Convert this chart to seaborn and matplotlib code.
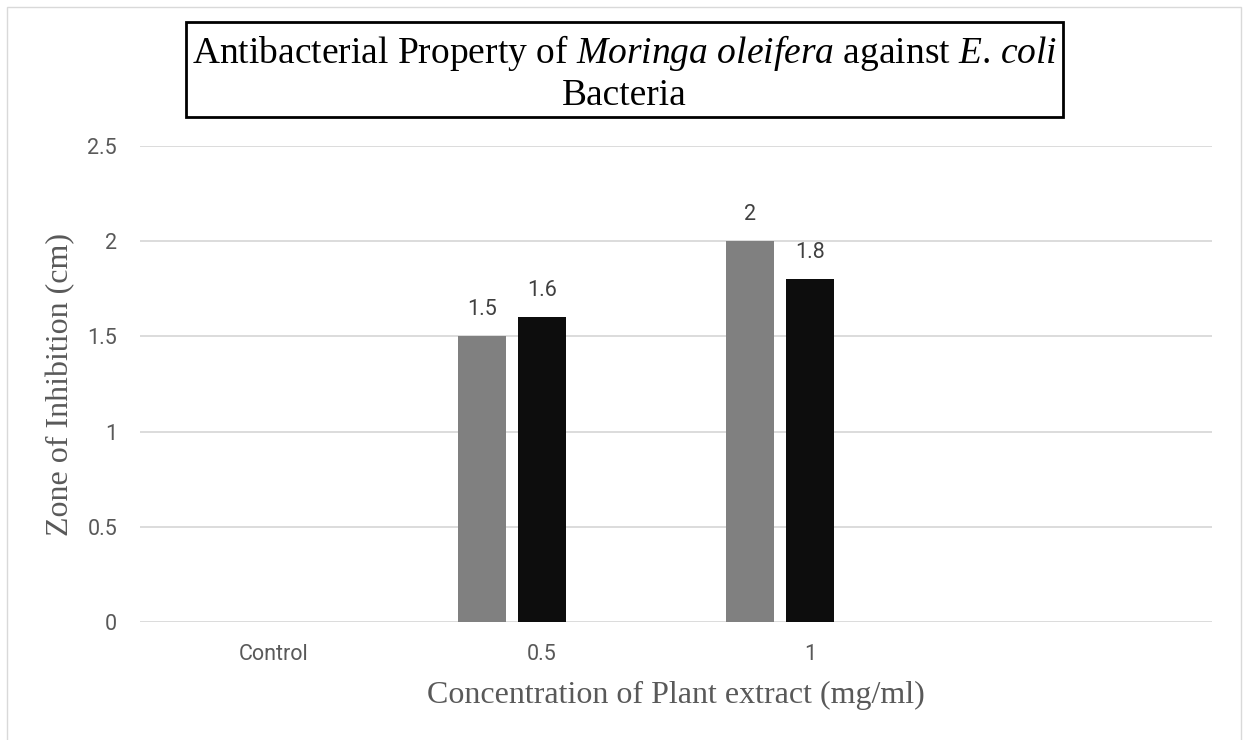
import numpy as np
import pandas as pd
import seaborn as sns
import matplotlib.pyplot as plt
from matplotlib.patches import Rectangle

# chart data (Control and the 4th slot have no values)
concentrations = ["Control", "0.5", "1", ""]
trial_1 = [np.nan, 1.5, 2.0, np.nan]
trial_2 = [np.nan, 1.6, 1.8, np.nan]
trial_3 = [np.nan, np.nan, np.nan, np.nan]
series_names = ["Trial 1", "Trial 2", "Trial 3"]
y_ticks = [0, 0.5, 1, 1.5, 2, 2.5]

title_text = (r"Antibacterial Property of $\mathit{Moringa}$ $\mathit{oleifera}$ against $\mathit{E}$. $\mathit{coli}$"
              "\nBacteria")
x_label = "Concentration of Plant extract (mg/ml)"
y_label = "Zone of Inhibition (cm)"

df = pd.DataFrame({
    "conc": concentrations * 3,
    "series": np.repeat(series_names, len(concentrations)),
    "value": trial_1 + trial_2 + trial_3,
})

sns.set_style("white")
plt.rcParams["font.family"] = ["Roboto", "DejaVu Sans"]
plt.rcParams["mathtext.fontset"] = "custom"
plt.rcParams["mathtext.rm"] = "Liberation Serif"
plt.rcParams["mathtext.it"] = "Liberation Serif:italic"

fig = plt.figure(figsize=(12.44, 7.40), dpi=100)
ax = fig.add_axes([140 / 1244, 1 - 622 / 740, 1072 / 1244, 476 / 740])

sns.barplot(
    data=df, x="conc", y="value", hue="series",
    order=concentrations, hue_order=series_names,
    palette=["#808080", "#0d0d0d", "#bfbfbf"],
    width=0.672, gap=0.21, errorbar=None, legend=False,
    linewidth=0, ax=ax,
)

for cont in ax.containers:
    ax.bar_label(cont, fmt="%g", padding=12, fontsize=15.5, color="#404040")

ax.set_ylim(0, 2.5)
ax.set_yticks(y_ticks)
ax.set_yticklabels([f"{t:g}" for t in y_ticks])
ax.grid(axis="y", color="#d9d9d9", linewidth=1.3)
ax.set_axisbelow(True)
sns.despine(ax=ax, left=True, bottom=True, top=True, right=True)
ax.tick_params(axis="both", length=0, labelsize=15.5, labelcolor="#595959")
ax.tick_params(axis="y", pad=16.5)
ax.tick_params(axis="x", pad=16)

ax.set_xlabel(x_label, family="Liberation Serif", fontsize=23, color="#595959")
ax.set_ylabel(y_label, family="Liberation Serif", fontsize=23, color="#595959")
ax.xaxis.set_label_coords(0.5, -0.123)
ax.yaxis.set_label_coords(-0.060, 0.5)

# title in a black frame
fig.patches.append(Rectangle((186 / 1244, 1 - 117 / 740), 877 / 1244, 95 / 740,
                             transform=fig.transFigure, fill=False,
                             edgecolor="black", linewidth=2))
fig.text(624.5 / 1244, 1 - 73 / 740, title_text, ha="center", va="center",
         multialignment="center", family="Liberation Serif", fontsize=27,
         color="black", linespacing=1.2)

# light outer chart border
fig.patches.append(Rectangle((7 / 1244, -0.02), 1234 / 1244, 1.02 - 7 / 740,
                             transform=fig.transFigure, fill=False,
                             edgecolor="#d9d9d9", linewidth=1))

fig.savefig("out.png", dpi=100)
